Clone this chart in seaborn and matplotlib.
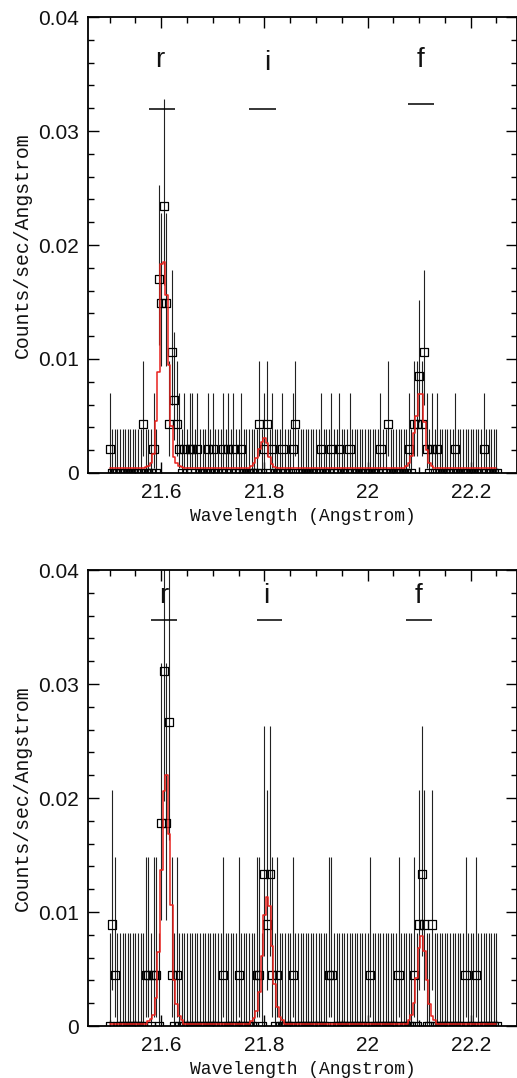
import numpy as np
import pandas as pd
import matplotlib
matplotlib.use("Agg")
import matplotlib.pyplot as plt
import seaborn as sns
from matplotlib.ticker import MultipleLocator, FixedLocator, FuncFormatter

sns.set_theme(style="ticks")
plt.rcParams["font.family"] = ["Liberation Sans", "DejaVu Sans"]

# ---------------- data ----------------
# spectral bins (Angstrom): centres 21.500 ... 22.250, 0.005 wide
wave_start = 21.5
wave_step = 0.005
n_bins = 151

# top panel: bins with non-zero counts (bin index, counts); all other bins are 0
top_bins = [0, 13, 17, 19, 20, 21, 22, 23, 24, 25, 26, 27, 29, 31, 32, 34, 38, 40,
            44, 46, 48, 51, 58, 60, 61, 63, 67, 71, 72, 82, 86, 89, 93, 105, 108,
            116, 118, 119, 120, 121, 122, 123, 125, 127, 134, 145]
top_counts = [1, 2, 1, 8, 7, 11, 7, 2, 5, 3, 2, 1, 1, 1, 1, 1, 1, 1,
              1, 1, 1, 1, 2, 1, 2, 1, 1, 1, 2, 1, 1, 1, 1, 1, 2,
              1, 2, 2, 4, 2, 5, 1, 1, 1, 1, 1]
top_unit = 0.00213  # counts/sec/Angstrom per count
# error bar ends read for each count level
top_err_levels = [0, 1, 2, 3, 4, 5, 7, 8, 11]
top_err_hi = [0.0039, 0.0070, 0.0098, 0.0124, 0.0152, 0.0178, 0.0228, 0.0253, 0.0328]
top_err_lo = [0.0, 0.0004, 0.0015, 0.0029, 0.0045, 0.0060, 0.0094, 0.0112, 0.0165]
# model (red step curve)
top_model_base = 0.0004
top_model_bins = [14, 15, 16, 17, 18, 19, 20, 21, 22, 23, 24, 25, 26, 27, 28,
                  55, 56, 57, 58, 59, 60, 61, 62, 63, 64,
                  115, 116, 117, 118, 119, 120, 121, 122, 123, 124, 125]
top_model_vals = [0.0005, 0.0006, 0.0009, 0.0017, 0.0046, 0.0089, 0.0183, 0.0185,
                  0.0156, 0.0095, 0.0041, 0.0014, 0.0009, 0.0006, 0.0005,
                  0.0006, 0.0009, 0.0013, 0.0021, 0.0027, 0.0031, 0.0026, 0.0014,
                  0.0008, 0.0005,
                  0.0006, 0.0009, 0.0015, 0.0035, 0.0050, 0.0069, 0.0069, 0.0045,
                  0.0020, 0.0009, 0.0006]

# bottom panel
bot_bins = [1, 2, 14, 15, 17, 18, 20, 21, 22, 23, 24, 26, 44, 50, 57, 58, 60, 61,
            62, 63, 65, 71, 85, 86, 101, 112, 118, 120, 121, 122, 125, 138, 142]
bot_counts = [2, 1, 1, 1, 1, 1, 4, 7, 4, 6, 1, 1, 1, 1, 1, 1, 3, 2,
              3, 1, 1, 1, 1, 1, 1, 1, 1, 2, 3, 2, 2, 1, 1]
bot_unit = 0.00445
bot_err_levels = [0, 1, 2, 3, 4, 6, 7]
bot_err_hi = [0.0082, 0.0148, 0.0207, 0.0263, 0.0318, 0.0425, 0.0480]
bot_err_lo = [0.0, 0.0008, 0.0032, 0.0061, 0.0093, 0.0163, 0.0197]
bot_model_base = 0.0002
bot_model_bins = [15, 16, 17, 18, 19, 20, 21, 22, 23, 24, 25, 26, 27, 28,
                  55, 56, 57, 58, 59, 60, 61, 62, 63, 64, 65, 66, 67,
                  116, 117, 118, 119, 120, 121, 122, 123, 124, 125, 126]
bot_model_vals = [0.0004, 0.0006, 0.0010, 0.0025, 0.0065, 0.0137, 0.0206, 0.0220,
                  0.0168, 0.0106, 0.0040, 0.0019, 0.0009, 0.0005,
                  0.0004, 0.0007, 0.0013, 0.0030, 0.0061, 0.0097, 0.0113, 0.0105,
                  0.0070, 0.0037, 0.0017, 0.0008, 0.0005,
                  0.0005, 0.0010, 0.0020, 0.0042, 0.0068, 0.0079, 0.0066, 0.0040,
                  0.0019, 0.0009, 0.0005]

# line labels
line_names = ["r", "i", "f"]
top_label_x = [21.598, 21.805, 22.103]
top_label_y = [0.0362, 0.0360, 0.0362]
top_bar_x0 = [21.577, 21.771, 22.079]
top_bar_x1 = [21.627, 21.822, 22.129]
top_bar_y = [0.0319, 0.0319, 0.0324]
bot_label_x = [21.604, 21.803, 22.098]
bot_label_y = [0.0377, 0.0377, 0.0377]
bot_bar_x0 = [21.580, 21.785, 22.075]
bot_bar_x1 = [21.630, 21.835, 22.125]
bot_bar_y = [0.0356, 0.0356, 0.0356]

xticks = [21.6, 21.8, 22.0, 22.2]

# ---------------- drawing ----------------
W, H = 517, 1078
fig = plt.figure(figsize=(W / 100, H / 100), dpi=100)
fig.patch.set_facecolor("white")

ax_left = 88.3 / W
ax_w = (516.6 - 88.3) / W
ax_h = 456 / H
ax_top = fig.add_axes([ax_left, (H - 473) / H, ax_w, ax_h])
ax_bot = fig.add_axes([ax_left, (H - 1026) / H, ax_w, ax_h])

fmt = FuncFormatter(lambda v, p: "{:g}".format(round(v, 4)))


def draw_panel(ax, bins, counts, unit, lev, ehi, elo, base, mbins, mvals,
               lx, ly, bx0, bx1, by):
    wave = wave_start + wave_step * np.arange(n_bins)
    cnt = np.zeros(n_bins, dtype=int)
    cnt[bins] = counts
    flux = cnt * unit
    hi = np.array([ehi[lev.index(c)] for c in cnt])
    lo = np.array([elo[lev.index(c)] for c in cnt])
    ax.vlines(wave, lo, hi, color="#222222", lw=0.8, zorder=2)
    df = pd.DataFrame({"wave": wave, "flux": flux})
    sns.scatterplot(data=df, x="wave", y="flux", marker="s", s=34,
                    facecolors="none", edgecolor="black", linewidth=0.9,
                    ax=ax, zorder=3)
    model = np.full(n_bins, base)
    model[mbins] = mvals
    mdf = pd.DataFrame({"wave": wave, "model": model})
    sns.lineplot(data=mdf, x="wave", y="model", drawstyle="steps-mid",
                 color="#e8211c", lw=1.1, estimator=None, ax=ax, zorder=4)
    for name, x, y in zip(line_names, lx, ly):
        ax.text(x, y, name, ha="center", va="center", fontsize=20,
                color="#111111", family=["Liberation Sans", "DejaVu Sans"])
    ax.hlines(by, bx0, bx1, color="black", lw=1.1)

    ax.set_xlim(21.4585, 22.289)
    ax.set_ylim(0, 0.04)
    ax.xaxis.set_major_locator(FixedLocator(xticks))
    ax.xaxis.set_minor_locator(MultipleLocator(0.05))
    ax.yaxis.set_major_locator(MultipleLocator(0.01))
    ax.yaxis.set_minor_locator(MultipleLocator(0.002))
    ax.xaxis.set_major_formatter(fmt)
    ax.yaxis.set_major_formatter(fmt)
    ax.tick_params(which="both", direction="in", top=True, right=True,
                   width=1.0, color="black", labelsize=15, labelcolor="#111111")
    ax.tick_params(which="major", length=8, pad=7)
    ax.tick_params(which="minor", length=4)
    for sp in ax.spines.values():
        sp.set_color("black")
        sp.set_linewidth(1.3)
    ax.set_xlabel("Wavelength (Angstrom)", fontsize=13,
                  family=["Liberation Mono", "DejaVu Sans Mono"], color="#111111")
    ax.set_ylabel("Counts/sec/Angstrom", fontsize=14.3,
                  family=["Liberation Mono", "DejaVu Sans Mono"], color="#111111")
    ax.yaxis.set_label_coords(-0.132, 0.5)
    ax.xaxis.set_label_coords(0.5, -0.076)
    ax.set_facecolor("white")
    leg = ax.get_legend()
    if leg is not None:
        leg.remove()


draw_panel(ax_top, top_bins, top_counts, top_unit, top_err_levels, top_err_hi,
           top_err_lo, top_model_base, top_model_bins, top_model_vals,
           top_label_x, top_label_y, top_bar_x0, top_bar_x1, top_bar_y)
draw_panel(ax_bot, bot_bins, bot_counts, bot_unit, bot_err_levels, bot_err_hi,
           bot_err_lo, bot_model_base, bot_model_bins, bot_model_vals,
           bot_label_x, bot_label_y, bot_bar_x0, bot_bar_x1, bot_bar_y)

fig.savefig("out.png", dpi=100, facecolor="white")
